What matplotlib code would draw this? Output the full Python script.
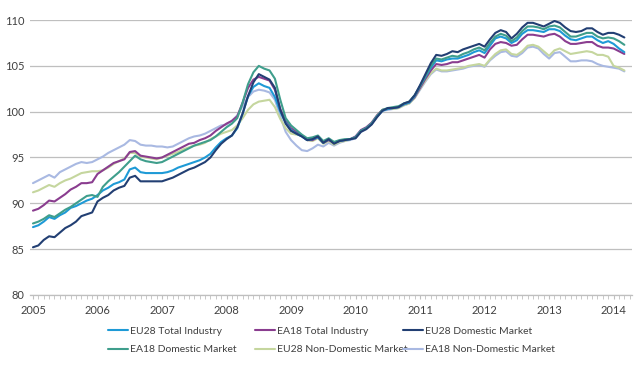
import matplotlib
matplotlib.use("Agg")
import matplotlib.pyplot as plt
import numpy as np

plt.rcParams['font.family'] = ['Lato', 'DejaVu Sans']

# Monthly index values, Jan 2005 - Mar 2014
eu28_total = [
    87.4, 87.6, 88.0, 88.5, 88.3, 88.7, 89.0, 89.5, 89.7, 90.0, 90.3, 90.5,
    90.9, 91.4, 91.7, 92.1, 92.3, 92.6, 93.7, 93.9, 93.4, 93.3, 93.3, 93.3,
    93.3, 93.4, 93.6, 93.9, 94.1, 94.3, 94.5, 94.7, 95.0, 95.4, 96.1, 96.7,
    97.1, 97.4, 98.2, 99.8, 101.7, 102.7, 103.1, 102.8, 102.6, 101.6, 100.0, 98.8,
    98.0, 97.6, 97.3, 96.9, 97.0, 97.2, 96.6, 97.0, 96.6, 96.8, 96.9, 97.0,
    97.2, 97.9, 98.2, 98.7, 99.5, 100.1, 100.3, 100.4, 100.5, 100.8, 101.0, 101.7,
    102.8, 103.8, 104.8, 105.6, 105.5, 105.7, 105.8, 105.8, 106.0, 106.2, 106.5, 106.7,
    106.4, 107.2, 108.0, 108.2, 108.0, 107.5, 107.8, 108.5, 108.9, 108.9, 108.8, 108.7,
    109.0, 109.0, 108.8, 108.3, 107.9, 107.8, 108.0, 108.2, 108.2, 107.8, 107.5, 107.7,
    107.4, 106.9, 106.5]

ea18_total = [
    89.2, 89.4, 89.8, 90.3, 90.2, 90.6, 91.0, 91.5, 91.8, 92.2, 92.2, 92.3,
    93.2, 93.6, 94.0, 94.4, 94.6, 94.8, 95.6, 95.7, 95.2, 95.1, 95.0, 94.9,
    95.0, 95.3, 95.6, 95.9, 96.2, 96.5, 96.6, 96.9, 97.1, 97.4, 97.9, 98.3,
    98.7, 99.0, 99.5, 101.0, 102.6, 103.5, 103.8, 103.6, 103.4, 102.4, 100.3, 99.0,
    98.2, 97.8, 97.4, 96.9, 96.9, 97.2, 96.6, 96.9, 96.6, 96.8, 96.9, 97.0,
    97.3, 98.0, 98.3, 98.8, 99.6, 100.2, 100.3, 100.4, 100.5, 100.8, 101.0, 101.6,
    102.6, 103.6, 104.5, 105.2, 105.1, 105.2, 105.4, 105.4, 105.6, 105.8, 106.0, 106.2,
    105.9, 106.8, 107.4, 107.6, 107.5, 107.2, 107.3, 107.9, 108.4, 108.4, 108.3, 108.2,
    108.4, 108.5, 108.2, 107.7, 107.4, 107.4, 107.5, 107.6, 107.6, 107.2, 107.0, 107.0,
    106.9, 106.6, 106.3]

eu28_domestic = [
    85.2, 85.4, 86.0, 86.4, 86.3, 86.8, 87.3, 87.6, 88.0, 88.6, 88.8, 89.0,
    90.2, 90.6, 90.9, 91.4, 91.7, 91.9, 92.8, 93.0, 92.4, 92.4, 92.4, 92.4,
    92.4, 92.6, 92.8, 93.1, 93.4, 93.7, 93.9, 94.2, 94.5, 95.0, 95.8, 96.5,
    97.0, 97.4, 98.3, 99.8, 101.7, 103.2, 104.1, 103.8, 103.5, 102.6, 100.2, 98.7,
    97.9, 97.6, 97.3, 96.9, 97.0, 97.3, 96.6, 97.0, 96.5, 96.8, 96.9, 97.0,
    97.1, 97.8, 98.1, 98.6, 99.4, 100.1, 100.4, 100.4, 100.5, 100.9, 101.1, 101.8,
    102.9, 104.1, 105.3, 106.2, 106.1, 106.3, 106.6, 106.5, 106.8, 107.0, 107.2, 107.4,
    107.1, 107.9, 108.6, 108.9, 108.7, 108.0, 108.5, 109.2, 109.7, 109.7, 109.5, 109.3,
    109.6, 109.9, 109.7, 109.2, 108.8, 108.7, 108.8, 109.1, 109.1, 108.7, 108.4, 108.6,
    108.6, 108.4, 108.1]

ea18_domestic = [
    87.8, 88.0, 88.3, 88.7, 88.5, 88.9, 89.3, 89.6, 90.0, 90.4, 90.8, 90.9,
    90.7, 91.8, 92.4, 92.9, 93.4, 94.0, 94.6, 95.2, 94.8, 94.6, 94.5, 94.4,
    94.5, 94.8, 95.1, 95.4, 95.7, 96.0, 96.3, 96.5, 96.7, 96.9, 97.3, 97.8,
    98.3, 98.7, 99.3, 101.0, 103.0, 104.3, 105.0, 104.7, 104.5, 103.6, 101.3, 99.3,
    98.5, 98.0, 97.5, 97.1, 97.2, 97.4, 96.8, 97.1, 96.7, 96.9, 97.0, 97.0,
    97.2, 97.9, 98.2, 98.7, 99.5, 100.2, 100.4, 100.5, 100.6, 100.9, 101.1, 101.8,
    102.8, 103.9, 105.0, 105.8, 105.7, 105.9, 106.1, 106.0, 106.3, 106.5, 106.8, 107.0,
    106.7, 107.5, 108.2, 108.5, 108.3, 107.7, 108.1, 108.8, 109.3, 109.3, 109.2, 109.0,
    109.3, 109.4, 109.2, 108.7, 108.2, 108.2, 108.4, 108.6, 108.6, 108.2, 108.0, 108.1,
    108.0, 107.7, 107.3]

eu28_nondomestic = [
    91.2, 91.4, 91.7, 92.0, 91.8, 92.2, 92.5, 92.7, 93.0, 93.3, 93.4, 93.5,
    93.5, 93.6, 93.9, 94.3, 94.6, 94.9, 95.5, 95.5, 95.1, 95.0, 94.9, 94.8,
    95.0, 95.2, 95.4, 95.6, 95.9, 96.1, 96.3, 96.4, 96.6, 97.0, 97.3, 97.6,
    97.8, 98.0, 98.5, 99.3, 100.2, 100.8, 101.1, 101.2, 101.3, 100.5, 99.2, 98.2,
    97.6, 97.5, 97.4, 96.9, 96.8, 97.1, 96.5, 96.8, 96.4, 96.7, 96.8, 97.0,
    97.2, 97.9, 98.2, 98.8, 99.6, 100.2, 100.3, 100.3, 100.4, 100.7, 100.9, 101.5,
    102.5, 103.4, 104.2, 104.7, 104.5, 104.5, 104.6, 104.7, 104.8, 105.0, 105.1, 105.2,
    105.0, 105.7, 106.3, 106.7, 106.8, 106.3, 106.2, 106.6, 107.2, 107.3, 107.1, 106.6,
    106.1, 106.7, 106.9, 106.6, 106.3, 106.4, 106.5, 106.6, 106.5, 106.2, 106.2, 106.0,
    105.0, 104.8, 104.5]

ea18_nondomestic = [
    92.2, 92.5, 92.8, 93.1, 92.8, 93.4, 93.7, 94.0, 94.3, 94.5, 94.4, 94.5,
    94.8, 95.1, 95.5, 95.8, 96.1, 96.4, 96.9, 96.8, 96.4, 96.3, 96.3, 96.2,
    96.2, 96.1, 96.2, 96.5, 96.8, 97.1, 97.3, 97.4, 97.6, 97.9, 98.2, 98.5,
    98.6, 99.0, 99.6, 100.6, 101.6, 102.2, 102.4, 102.3, 102.1, 101.3, 99.5, 97.8,
    96.9, 96.3, 95.8, 95.7, 96.0, 96.4, 96.2, 96.6, 96.3, 96.6, 96.8, 96.9,
    97.1, 97.8, 98.1, 98.7, 99.5, 100.1, 100.2, 100.3, 100.4, 100.7, 100.9, 101.5,
    102.4, 103.3, 104.1, 104.6, 104.4, 104.4, 104.5, 104.6, 104.7, 104.9, 105.0, 105.1,
    104.9, 105.6, 106.1, 106.5, 106.6, 106.1, 106.0, 106.4, 107.0, 107.1, 106.9, 106.3,
    105.8, 106.4, 106.5, 106.0, 105.5, 105.5, 105.6, 105.6, 105.5, 105.2, 105.0, 104.9,
    104.8, 104.7, 104.4]

series_names = ["EU28 Total Industry", "EA18 Total Industry", "EU28 Domestic Market",
                "EA18 Domestic Market", "EU28 Non-Domestic Market", "EA18 Non-Domestic Market"]
series_values = [eu28_total, ea18_total, eu28_domestic, ea18_domestic,
                 eu28_nondomestic, ea18_nondomestic]
colors = ["#1e9ad6", "#8a3d8f", "#223f73", "#3f9e8c", "#c5d69e", "#a9b9e2"]

start_year = 2005
year_labels = [str(y) for y in range(2005, 2015)]
y_ticks = [80, 85, 90, 95, 100, 105, 110]

n = len(eu28_total)
x = start_year + np.arange(n) / 12.0

fig = plt.figure(figsize=(6.4, 3.65), dpi=100)
ax = fig.add_axes([0.047, 0.192, 0.941, 0.753])

order = [5, 4, 1, 0, 3, 2]
lines = {}
for i in order:
    ln, = ax.plot(x, series_values[i], color=colors[i], lw=1.5, label=series_names[i],
                  solid_capstyle='round')
    lines[i] = ln

ax.set_ylim(80, 110)
ax.set_yticks(y_ticks)
ax.set_xlim(2004.955, 2014.29)
ax.set_xticks(range(2005, 2015))
ax.set_xticklabels(year_labels)
ax.set_xticks(start_year + np.arange(0, 112) / 12.0, minor=True)

ax.grid(axis='y', color='#bfbfbf', lw=0.9)
ax.set_axisbelow(True)
for s in ['top', 'right', 'left']:
    ax.spines[s].set_visible(False)
ax.spines['bottom'].set_color('#bfbfbf')
ax.spines['bottom'].set_linewidth(0.9)

ax.tick_params(axis='y', length=0, labelsize=8, colors='#404040', pad=4)
ax.tick_params(axis='x', which='both', direction='out', length=3, color='#bfbfbf',
               labelsize=8, labelcolor='#404040', pad=4)

# legend: three columns of two entries, placed like the original grid
col_entries = [[0, 3], [1, 4], [2, 5]]
col_x = [108, 255, 403]
for entries, cx in zip(col_entries, col_x):
    leg = fig.legend([lines[i] for i in entries], [series_names[i] for i in entries],
                     ncol=1, loc='center left',
                     bbox_to_anchor=(cx / 640, 1 - 340.5 / 365),
                     frameon=False, fontsize=7.5, handlelength=1.9, handletextpad=0.2,
                     labelspacing=0.85, labelcolor='#404040', borderaxespad=0,
                     borderpad=0)

fig.savefig("out.png", dpi=100, facecolor='white')
